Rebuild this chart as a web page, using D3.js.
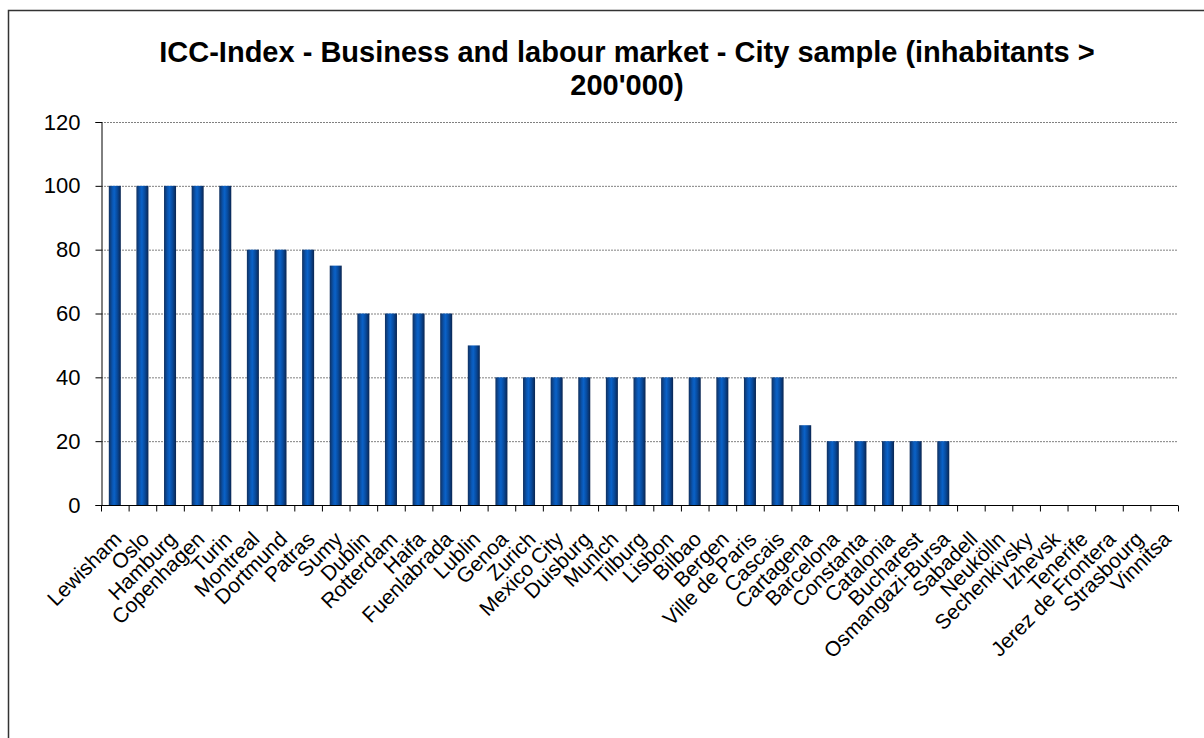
<!DOCTYPE html>
<html><head><meta charset="utf-8">
<script src="https://cdn.jsdelivr.net/npm/d3@7"></script>
<style>body{margin:0;background:#fff}svg{display:block;font-family:Arial,"Liberation Sans",sans-serif}</style>
</head><body><svg id="c" width="1204" height="738"></svg>
<script>
const titleLines = ["ICC-Index - Business and labour market - City sample (inhabitants >", "200'000)"];
const categories = ["Lewisham","Oslo","Hamburg","Copenhagen","Turin","Montreal","Dortmund","Patras","Sumy","Dublin","Rotterdam","Haifa","Fuenlabrada","Lublin","Genoa","Zurich","Mexico City","Duisburg","Munich","Tilburg","Lisbon","Bilbao","Bergen","Ville de Paris","Cascais","Cartagena","Barcelona","Constanta","Catalonia","Bucharest","Osmangazi-Bursa","Sabadell","Neukölln","Sechenkivsky","Izhevsk","Tenerife","Jerez de Frontera","Strasbourg","Vinnitsa"];
const values = [100,100,100,100,100,80,80,80,75,60,60,60,60,50,40,40,40,40,40,40,40,40,40,40,40,25,20,20,20,20,20,0,0,0,0,0,0,0,0];
const yTicks = [0,20,40,60,80,100,120];

const svg = d3.select("#c");
const L = 101, R = 1178, T = 122, B = 505;

svg.append("rect").attr("x",8.5).attr("y",10.5).attr("width",1300).attr("height",900)
  .attr("fill","none").attr("stroke","#333").attr("stroke-width",1.5);

const defs = svg.append("defs");
const g = defs.append("linearGradient").attr("id","bg").attr("x1","0").attr("x2","1").attr("y1","0").attr("y2","0");
[[0,"#10305f"],[0.3,"#0a55b0"],[0.45,"#0a62c8"],[0.7,"#084a9c"],[1,"#0a2550"]].forEach(s=>g.append("stop").attr("offset",s[0]).attr("stop-color",s[1]));

const x = d3.scaleBand().domain(categories).range([L,R]).paddingInner(0.565).paddingOuter(0.2825);
const xb = d3.scaleBand().domain(categories).range([L,R]);
const y = d3.scaleLinear().domain([0,120]).range([B,T]);

// gridlines
svg.append("g").selectAll("line").data(yTicks.filter(d=>d>0)).join("line")
  .attr("x1",L).attr("x2",R).attr("y1",d=>y(d)+0.5).attr("y2",d=>y(d)+0.5)
  .attr("stroke","#808080").attr("stroke-width",1).attr("stroke-dasharray","2,1");

// bars
svg.append("g").selectAll("rect").data(values.map((v,i)=>({c:categories[i],v}))).join("rect")
  .attr("x",d=>x(d.c)).attr("width",x.bandwidth())
  .attr("y",d=>y(d.v)).attr("height",d=>B-y(d.v)).attr("fill","url(#bg)");

// y axis
const ya = svg.append("g").attr("transform",`translate(${L+0.5},0)`)
  .call(d3.axisLeft(y).tickValues(yTicks).tickSize(6).tickPadding(15));
ya.select(".domain").attr("stroke","#000");
ya.selectAll(".tick line").attr("stroke","#000");
ya.selectAll(".tick text").attr("font-size",22).attr("fill","#000").attr("font-family","Arial, 'Liberation Sans', sans-serif");

// x axis
const xa = svg.append("g").attr("transform",`translate(0,${B+0.5})`);
xa.append("line").attr("x1",L).attr("x2",R).attr("stroke","#000");
xa.selectAll("line.t").data(d3.range(categories.length+1)).join("line").attr("class","t")
  .attr("x1",i=>L+i*xb.step()+0.5).attr("x2",i=>L+i*xb.step()+0.5).attr("y1",0).attr("y2",6).attr("stroke","#000");
xa.selectAll("text").data(categories).join("text")
  .attr("transform",d=>`translate(${xb(d)+xb.bandwidth()/2+8},${35}) rotate(-45)`)
  .attr("text-anchor","end").attr("font-size",21).attr("fill","#000").text(d=>d);

// title
svg.append("g").selectAll("text").data(titleLines).join("text")
  .attr("x",627).attr("y",(d,i)=>62+i*33).attr("text-anchor","middle")
  .attr("font-size",29).attr("font-weight","bold").attr("fill","#000").text(d=>d);
</script></body></html>
